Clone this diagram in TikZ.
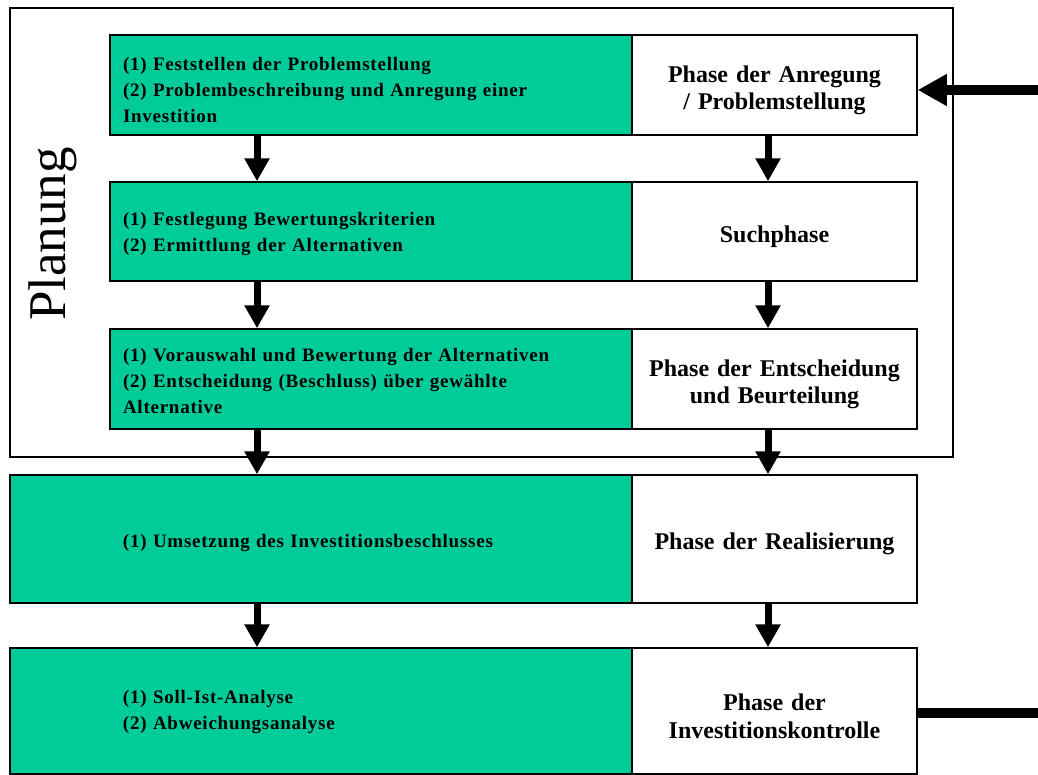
\documentclass[tikz,border=0pt]{standalone}
\usepackage{fontspec}
\setmainfont{Liberation Serif}
\usetikzlibrary{arrows.meta}
\definecolor{phasegreen}{RGB}{0,204,153}
\begin{document}
\begin{tikzpicture}[x=1pt,y=-1pt,
  frame/.style={draw=black,line width=1.5pt,fill=white,inner sep=0pt},
  taskbox/.style={draw=black,line width=1.5pt,fill=phasegreen,inner xsep=13pt,inner ysep=0pt,
    align=left,font=\fontsize{19}{26}\selectfont\bfseries\addfontfeature{LetterSpace=4}},
  phasebox/.style={draw=black,line width=1.5pt,fill=white,inner sep=0pt,text width=280pt,
    align=center,font=\fontsize{24}{27.5}\selectfont\bfseries,
    execute at begin node={\rule{0pt}{27pt}}},
  flow/.style={line width=7pt,-{Triangle[width=24pt,length=23pt]}},
  feed/.style={line width=10pt}
]
\useasboundingbox (0,0) rectangle (1038,774);
% planning frame
\node[frame,minimum width=943pt,minimum height=449pt] (plan) at (481.5,232.5) {};
\node[rotate=90,font=\fontsize{53}{56}\selectfont] (plantitle) at (53,234) {Planung};

% task boxes (green) and phase boxes (white)
\node[taskbox,text width=496pt,minimum height=100pt] (g1) at (371,85)
  {\rule{0pt}{24pt}(1) Feststellen der Problemstellung\\(2) Problembeschreibung und Anregung einer\\Investition};
\node[phasebox,minimum width=285pt,minimum height=100pt] (w1) at (774.5,85)
  {Phase der Anregung\\/ Problemstellung\hspace*{12pt}};

\node[taskbox,text width=496pt,minimum height=99pt] (g2) at (371,231.5)
  {\rule{0pt}{18pt}(1) Festlegung Bewertungskriterien\\(2) Ermittlung der Alternativen};
\node[phasebox,minimum width=285pt,minimum height=99pt] (w2) at (774.5,231.5)
  {Suchphase};

\node[taskbox,text width=496pt,minimum height=100pt] (g3) at (371,379)
  {\rule{0pt}{18pt}(1) Vorauswahl und Bewertung der Alternativen\\(2) Entscheidung (Beschluss) über gewählte\\Alternative};
\node[phasebox,minimum width=285pt,minimum height=100pt] (w3) at (774.5,379)
  {Phase der Entscheidung\\und Beurteilung};

\node[taskbox,text width=596pt,minimum height=128pt] (g4) at (321,539)
  {\hspace*{100pt}\rule{0pt}{22pt}(1) Umsetzung des Investitionsbeschlusses};
\node[phasebox,minimum width=285pt,minimum height=128pt] (w4) at (774.5,539)
  {Phase der Realisierung};

\node[taskbox,text width=596pt,minimum height=126pt] (g5) at (321,711)
  {\hspace*{100pt}\rule{0pt}{15pt}(1) Soll-Ist-Analyse\\\hspace*{100pt}(2) Abweichungsanalyse};
\node[phasebox,minimum width=285pt,minimum height=126pt] (w5) at (774.5,711)
  {Phase der\\Investitionskontrolle};

% arrow columns
\coordinate (colL) at (257,0);
\coordinate (colR) at (768,0);
\foreach \a/\b in {g1/g2,g2/g3,g3/g4,g4/g5}
  \draw[flow] (\a.south -| colL) -- (\b.north -| colL);
\foreach \a/\b in {w1/w2,w2/w3,w3/w4,w4/w5}
  \draw[flow] (\a.south -| colR) -- (\b.north -| colR);

% feedback in and out
\coordinate (inStart) at (1038,90);
\coordinate (outEnd) at (1038,713);
\draw[line width=10pt,-{Triangle[width=30pt,length=29pt]}] (inStart) -- (inStart -| w1.east);
\draw[feed] (w5.east |- outEnd) -- (outEnd);
\end{tikzpicture}
\end{document}
